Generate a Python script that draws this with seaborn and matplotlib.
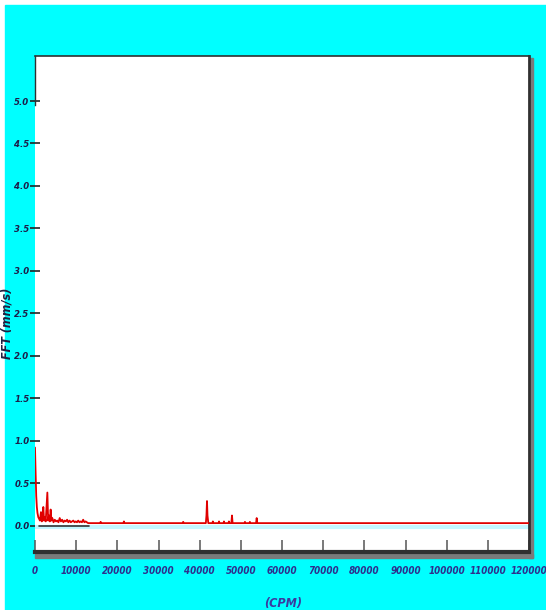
import matplotlib
matplotlib.use("Agg")
import matplotlib.pyplot as plt
import seaborn as sns
import pandas as pd
from matplotlib.patches import Rectangle

# ---- data ----
freq_cpm = [0, 150, 300, 450, 600, 800, 1000, 1200, 1450, 1650, 1850, 2020, 2200, 2400,
            2600, 3000, 3200, 3400, 3600, 3800, 4000, 4200, 4500, 4800, 5100, 5400, 5700,
            6000, 6300, 6600, 6900, 7200, 7500, 7800, 8100, 8400, 8700, 9000, 9300, 9600,
            9900, 10200, 10500, 10800, 11100, 11400, 11700, 12000, 12300, 12600, 12900,
            13500, 15800, 15950, 16100, 21450, 21600, 21750, 35850, 36000, 36150,
            41500, 41650, 41780, 41900, 42100, 43100, 43200, 43300, 44600, 44700, 44800,
            45800, 45900, 46000, 47000, 47100, 47200, 47700, 47850, 48000, 50900, 51000,
            51100, 52100, 52200, 52300, 53700, 53850, 54000, 120000]
fft_mms = [0.92, 0.62, 0.35, 0.22, 0.15, 0.10, 0.08, 0.06, 0.16, 0.05, 0.08, 0.22, 0.06, 0.10,
           0.05, 0.39, 0.06, 0.12, 0.05, 0.19, 0.06, 0.09, 0.04, 0.07, 0.05, 0.06, 0.04,
           0.09, 0.05, 0.07, 0.04, 0.06, 0.05, 0.07, 0.04, 0.06, 0.04, 0.05, 0.06, 0.04,
           0.05, 0.04, 0.06, 0.04, 0.05, 0.04, 0.07, 0.04, 0.05, 0.04, 0.03,
           0.03, 0.03, 0.045, 0.03, 0.03, 0.05, 0.03, 0.03, 0.045, 0.03,
           0.03, 0.12, 0.29, 0.12, 0.03, 0.03, 0.05, 0.03, 0.03, 0.05, 0.03,
           0.03, 0.05, 0.03, 0.03, 0.05, 0.03, 0.03, 0.12, 0.03, 0.03, 0.045,
           0.03, 0.03, 0.045, 0.03, 0.03, 0.09, 0.03, 0.03]

floor_cpm = [1000, 13000]
floor_mms = [0.0, 0.0]

x_ticks = [0, 10000, 20000, 30000, 40000, 50000, 60000, 70000, 80000, 90000,
           100000, 110000, 120000]
y_ticks = [0.0, 0.5, 1.0, 1.5, 2.0, 2.5, 3.0, 3.5, 4.0, 4.5, 5.0]

W, H = 546, 610

sns.set_style("white")
plt.rcParams["font.family"] = ["DejaVu Sans"]
plt.rcParams["font.stretch"] = "condensed"

df = pd.DataFrame({"CPM": freq_cpm, "FFT": fft_mms})
df_floor = pd.DataFrame({"CPM": floor_cpm, "FFT": floor_mms})

fig = plt.figure(figsize=(W / 100, H / 100), dpi=100, facecolor="white")
fig.patches.append(Rectangle((5 / W, 0), 1, 1 - 5 / H, transform=fig.transFigure,
                             color="#00ffff", zorder=-10))

L, R, T, B = 35, 529, 56, 552
# shadows of the frame
fig.patches.append(Rectangle((L / W, 1 - 558 / H), (533 - L) / W, 4 / H,
                             transform=fig.transFigure, color="#7a7a7a", zorder=-5))
fig.patches.append(Rectangle((R / W, 1 - 558 / H), 4 / W, (558 - 58) / H,
                             transform=fig.transFigure, color="#7a7a7a", zorder=-5))

ax = fig.add_axes([L / W, 1 - B / H, (R - L) / W, (B - T) / H])
ax.set_zorder(5)
ax.set_facecolor("white")

ax.axhline(-0.015, color="#c4f6ff", lw=3, zorder=1)
sns.lineplot(data=df_floor, x="CPM", y="FFT", color="#333333", lw=1.2, ax=ax, zorder=2)
sns.lineplot(data=df, x="CPM", y="FFT", color="#e00000", lw=1.3, ax=ax,
             estimator=None, sort=False, zorder=3)

ax.set_xlim(0, 120000)
ax.set_ylim(-0.31, 5.53)
ax.set_xticks(x_ticks)
ax.set_xticklabels([str(v) for v in x_ticks])
ax.set_yticks(y_ticks)
ax.set_yticklabels([f"{v:.1f}" for v in y_ticks])

ax.tick_params(axis="x", bottom=True, direction="in", length=9, width=1.1,
               color="#555555", labelsize=7, labelcolor="#2e2e8c", pad=10)
ax.tick_params(axis="y", left=True, direction="inout", length=7, width=1.2,
               color="#222222", labelsize=6.8, labelcolor="#1c1c48", pad=0.5)
for lab in ax.get_xticklabels() + ax.get_yticklabels():
    lab.set_fontweight("bold")
    lab.set_fontstyle("italic")
    lab.set_fontstretch("condensed")

for s in ax.spines.values():
    s.set_color("#303030")
ax.spines["bottom"].set_linewidth(3)
ax.spines["right"].set_linewidth(2)
ax.spines["top"].set_linewidth(1.2)
ax.spines["left"].set_linewidth(1)
ax.spines["left"].set_bounds(4.95, 5.53)

ax.set_xlabel("(CPM)", fontsize=9, fontweight="bold", fontstyle="italic",
              fontstretch="condensed", color="#3a3aa0")
ax.set_ylabel("FFT (mm/s)", fontsize=9, fontweight="bold", fontstyle="italic",
              fontstretch="condensed", color="#202040")
ax.xaxis.set_label_coords((283 - L) / (R - L), -(597 - B) / (B - T))
ax.yaxis.set_label_coords(-(L - 14) / (R - L), (B - 323) / (B - T))

fig.savefig("out.png", dpi=100, facecolor="white")
